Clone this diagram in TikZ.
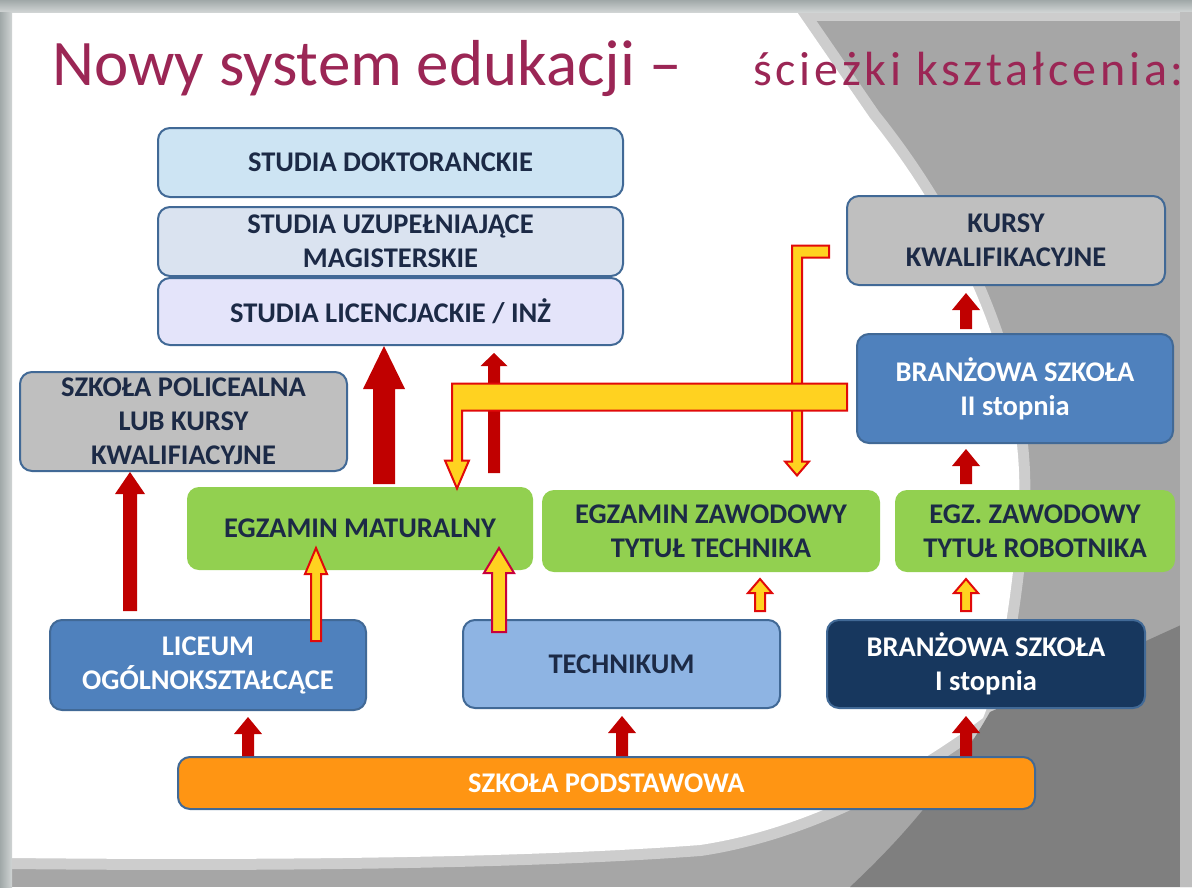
\documentclass[tikz,border=0pt]{standalone}
\usepackage{fontspec}
\setmainfont{Carlito}
\usetikzlibrary{calc,positioning}

\definecolor{titlered}{RGB}{155,38,85}
\definecolor{boxline}{RGB}{65,105,150}
\definecolor{navytext}{RGB}{28,42,70}
\definecolor{doktfill}{RGB}{205,228,243}
\definecolor{uzupfill}{RGB}{218,227,240}
\definecolor{licfill}{RGB}{228,228,250}
\definecolor{greyfill}{RGB}{191,191,191}
\definecolor{midblue}{RGB}{79,129,189}
\definecolor{lightblue}{RGB}{142,180,227}
\definecolor{darknavy}{RGB}{23,55,94}
\definecolor{examgreen}{RGB}{146,208,80}
\definecolor{podstorange}{RGB}{255,149,19}
\definecolor{arrred}{RGB}{192,0,0}
\definecolor{arryellow}{RGB}{255,210,32}
\definecolor{arredge}{RGB}{225,10,10}
\definecolor{arrcrimson}{RGB}{200,0,60}
\definecolor{bggrey}{RGB}{166,166,166}
\definecolor{bgdark}{RGB}{127,127,127}
\definecolor{bglight}{RGB}{205,205,205}
\definecolor{framedark}{RGB}{160,168,168}
\definecolor{framelight}{RGB}{208,212,212}
\definecolor{frameright}{RGB}{190,190,190}

% vertical block arrow: style, from, to, half shaft, half head, head length
\newcommand{\vArrow}[6]{%
    \path[#1] let \p1=#2, \p2=#3, \n1={sign(\y2-\y1)} in
        (\x1-#4,\y1) -- (\x1-#4,\y2-\n1*#6) -- (\x1-#5,\y2-\n1*#6) -- (\x1,\y2)
        -- (\x1+#5,\y2-\n1*#6) -- (\x1+#4,\y2-\n1*#6) -- (\x1+#4,\y1) -- cycle;}

\tikzset{level/.style={
            draw=boxline,
            line width=2pt,
            rounded corners=12pt,
            align=center,
            text=navytext,
            font=\fontsize{28.5}{34}\selectfont\bfseries,
            inner sep=0pt
        },
        whitelevel/.style={
            level,
            text=white
        },
        exam/.style={
            level,
            draw=none,
            fill=examgreen
        },
        rarr/.style={
            fill=arrred
        },
        yarr/.style={
            fill=arryellow,
            draw=arredge,
            line width=2pt
        }
    }

\begin{document}
\begin{tikzpicture}[x=1pt,y=-1pt]
    \useasboundingbox (0,0) rectangle (1192,887);
    % slide background
    \fill[bggrey] (0,0) rectangle (1192,887);
    \fill[bglight] (797,12) rectangle (1180,21);
    \path[fill=white, preaction={draw=bglight, line width=22pt}]
        (12,12) -- (797,12) -- (870,118)
        .. controls (960,230) and (1030,380) .. (1018,520)
        .. controls (1010,620) and (995,690) .. (983,718)
        .. controls (900,780) and (800,830) .. (700,845)
        .. controls (500,860) and (200,860) .. (12,858) -- cycle;
    \fill[bgdark] (1192,620) -- (990,712) .. controls (945,790) and (900,840) .. (850,887) -- (1192,887) -- cycle;
    \shade[top color=framedark, bottom color=framelight] (0,0) rectangle (1192,12);
    \shade[left color=framedark, right color=framelight] (0,12) rectangle (12,887);
    \fill[frameright] (1180,12) rectangle (1192,887);

    % title
    \node[anchor=base west, inner sep=0pt, text=titlered, font=\fontsize{65}{78}\selectfont] (title) at (52,85) {Nowy system edukacji –};
    \node[anchor=base west, inner sep=0pt, text=titlered, font=\fontsize{48}{58}\selectfont\addfontfeature{LetterSpace=8}] (subtitle) at (753,85) {ścieżki kształcenia:};

    % levels
    \node[level, fill=doktfill, minimum width=465pt, minimum height=69pt] (dokt) at (390.5,162.5) {STUDIA DOKTORANCKIE};
    \node[level, fill=uzupfill, minimum width=465pt, minimum height=69pt] (uzup) at (390.5,241.5) {STUDIA UZUPEŁNIAJĄCE\\MAGISTERSKIE};
    \node[level, fill=licfill, minimum width=465pt, minimum height=67pt] (lic) at (390.5,311.5) {STUDIA LICENCJACKIE / INŻ};
    \node[level, fill=greyfill, minimum width=318pt, minimum height=89pt] (kursy) at (1006,240.5) {KURSY\\KWALIFIKACYJNE};
    \node[whitelevel, fill=midblue, minimum width=316pt, minimum height=109pt] (br2) at (1015,388.5) {BRANŻOWA SZKOŁA\\II stopnia};
    \node[level, fill=greyfill, minimum width=327pt, minimum height=99pt] (polic) at (183.5,421.5) {SZKOŁA POLICEALNA\\LUB KURSY\\KWALIFIACYJNE};
    \node[exam, minimum width=346pt, minimum height=83pt] (matura) at (360,528.5) {EGZAMIN MATURALNY};
    \node[exam, minimum width=338pt, minimum height=82pt] (egzt) at (711,531) {EGZAMIN ZAWODOWY\\TYTUŁ TECHNIKA};
    \node[exam, minimum width=280pt, minimum height=82pt] (egzr) at (1035,531) {EGZ. ZAWODOWY\\TYTUŁ ROBOTNIKA};
    \node[whitelevel, fill=midblue, minimum width=316pt, minimum height=90pt] (liceum) at (208,665) {LICEUM\\OGÓLNOKSZTAŁCĄCE};
    \node[level, fill=lightblue, minimum width=317pt, minimum height=88pt] (techn) at (621.5,664) {TECHNIKUM};
    \node[whitelevel, fill=darknavy, minimum width=318pt, minimum height=88pt] (br1) at (986,664) {BRANŻOWA SZKOŁA\\I stopnia};
    \node[whitelevel, fill=podstorange, minimum width=857pt, minimum height=52pt] (podst) at (606.5,783) {SZKOŁA PODSTAWOWA};

    % red arrows
    \vArrow{rarr}{(podst.north -| 248,0)}{($(liceum.south)+(0,6)$)}{6pt}{14pt}{17pt}
    \vArrow{rarr}{(podst.north -| 622,0)}{($(techn.south)+(0,7)$)}{6pt}{14pt}{17pt}
    \vArrow{rarr}{(podst.north -| 966,0)}{($(br1.south)+(0,7)$)}{6pt}{14pt}{17pt}
    \vArrow{rarr}{($(egzr.north -| 966,0)+(0,-5)$)}{($(br2.south)+(0,5)$)}{6pt}{14pt}{17pt}
    \vArrow{rarr}{($(br2.north -| 966,0)+(0,-4)$)}{($(kursy.south)+(0,7)$)}{6pt}{14pt}{17pt}
    \vArrow{rarr}{($(liceum.north -| 130,0)+(0,-8)$)}{(polic.south -| 130,0)}{7pt}{15pt}{22pt}
    \vArrow{rarr}{($(matura.north -| 384,0)+(0,-2)$)}{(lic.south -| 384,0)}{11pt}{21pt}{43pt}
    \vArrow{rarr}{($(matura.north -| 494,0)+(0,-13)$)}{($(lic.south -| 494,0)+(0,7)$)}{6pt}{13.5pt}{13pt}

    % yellow arrows
    \vArrow{yarr}{($(liceum.north -| 316,0)+(0,22)$)}{($(matura.south -| 316,0)+(0,-23)$)}{5pt}{11pt}{26pt}
    \vArrow{yarr, draw=arrcrimson}{($(techn.north -| 499,0)+(0,13)$)}{($(matura.south -| 499,0)+(0,-23)$)}{7pt}{15pt}{25pt}
    \vArrow{yarr}{($(techn.north -| 760,0)+(0,-8)$)}{($(egzt.south -| 760,0)+(0,6)$)}{5pt}{12pt}{14pt}
    \vArrow{yarr}{($(br1.north -| 966,0)+(0,-8)$)}{($(egzr.south -| 966,0)+(0,6)$)}{5pt}{12pt}{14pt}
    % from kursy down to egzt
    \path[yarr] ($(kursy.west)+(-17,5)$) -- ++(-37,0) -- ++(0,216) -- ++(-7,0) -- ++(12,14)
        -- ++(12,-14) -- ++(-7,0) -- ++(0,-204) -- ++(27,0) -- cycle;
    % from br2 across to matura
    \path[yarr] ($(br2.west)+(-9,-5)$) -- ++(-395,0) -- ++(0,77) -- ++(-7,0) -- ++(12,28)
        -- ++(12,-28) -- ++(-7,0) -- ++(0,-50) -- ++(385,0) -- cycle;
\end{tikzpicture}
\end{document}
